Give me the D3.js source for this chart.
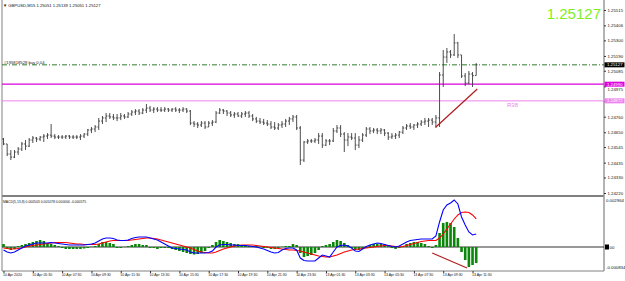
<!DOCTYPE html>
<html>
<head>
<meta charset="utf-8">
<script src="https://cdn.jsdelivr.net/npm/d3@7"></script>
<style>
body { margin: 0; background: #fff; }
svg { display: block; }
text { font-family: "Liberation Sans", Arial, sans-serif; }
</style>
</head>
<body>
<svg id="chart" width="625" height="281"></svg>
<script>
// GBPUSD M15 bars (open / high / low / close)
var opens = [
1.24602,1.24567,1.24496,1.24474,1.24510,1.24531,1.24567,1.24552,1.24595,1.24609,
1.24602,1.24616,1.24623,1.24630,1.24623,1.24616,1.24616,1.24616,1.24623,1.24616,
1.24616,1.24616,1.24623,1.24637,1.24666,1.24673,1.24687,1.24729,1.24751,1.24765,
1.24758,1.24751,1.24751,1.24765,1.24758,1.24779,1.24793,1.24800,1.24786,1.24807,
1.24821,1.24807,1.24814,1.24807,1.24807,1.24814,1.24807,1.24814,1.24807,1.24807,
1.24814,1.24800,1.24715,1.24708,1.24701,1.24715,1.24687,1.24715,1.24722,1.24786,
1.24807,1.24800,1.24786,1.24772,1.24779,1.24765,1.24779,1.24786,1.24765,1.24744,
1.24729,1.24722,1.24715,1.24708,1.24687,1.24680,1.24701,1.24708,1.24729,1.24744,
1.24758,1.24680,1.24453,1.24581,1.24588,1.24588,1.24595,1.24623,1.24559,1.24588,
1.24588,1.24659,1.24680,1.24637,1.24595,1.24616,1.24609,1.24559,1.24595,1.24630,
1.24673,1.24659,1.24666,1.24659,1.24666,1.24644,1.24616,1.24623,1.24630,1.24651,
1.24680,1.24694,1.24687,1.24701,1.24708,1.24722,1.24729,1.24736,1.24722,1.24751,
1.25055,1.25182,1.25218,1.25197,1.25282,1.25197,1.25048,1.24998,1.25062,1.25051];
var highs = [
1.24609,1.24567,1.24524,1.24524,1.24545,1.24581,1.24595,1.24609,1.24623,1.24616,
1.24623,1.24637,1.24644,1.24708,1.24637,1.24630,1.24630,1.24630,1.24630,1.24630,
1.24630,1.24637,1.24644,1.24673,1.24687,1.24701,1.24751,1.24765,1.24786,1.24786,
1.24779,1.24779,1.24786,1.24779,1.24793,1.24807,1.24814,1.24814,1.24821,1.24850,
1.24836,1.24828,1.24828,1.24828,1.24828,1.24821,1.24821,1.24828,1.24821,1.24828,
1.24821,1.24807,1.24729,1.24722,1.24729,1.24729,1.24729,1.24736,1.24800,1.24821,
1.24814,1.24807,1.24800,1.24793,1.24793,1.24793,1.24800,1.24800,1.24779,1.24758,
1.24751,1.24744,1.24736,1.24729,1.24722,1.24715,1.24729,1.24744,1.24758,1.24772,
1.24772,1.24694,1.24588,1.24602,1.24602,1.24609,1.24644,1.24644,1.24602,1.24602,
1.24680,1.24701,1.24701,1.24651,1.24644,1.24644,1.24644,1.24623,1.24644,1.24687,
1.24687,1.24680,1.24680,1.24680,1.24673,1.24651,1.24644,1.24644,1.24659,1.24694,
1.24708,1.24715,1.24708,1.24722,1.24736,1.24751,1.24751,1.24751,1.24772,1.25076,
1.25232,1.25246,1.25232,1.25345,1.25289,1.25197,1.25069,1.25083,1.25076,1.25139];
var lows = [
1.24559,1.24481,1.24453,1.24467,1.24489,1.24517,1.24524,1.24545,1.24574,1.24581,
1.24588,1.24581,1.24602,1.24609,1.24602,1.24602,1.24602,1.24602,1.24602,1.24602,
1.24602,1.24595,1.24609,1.24623,1.24644,1.24651,1.24666,1.24708,1.24722,1.24744,
1.24736,1.24729,1.24736,1.24744,1.24751,1.24765,1.24772,1.24772,1.24779,1.24786,
1.24793,1.24786,1.24793,1.24793,1.24793,1.24793,1.24793,1.24793,1.24786,1.24793,
1.24786,1.24701,1.24687,1.24680,1.24687,1.24673,1.24687,1.24694,1.24715,1.24779,
1.24779,1.24765,1.24758,1.24751,1.24758,1.24751,1.24758,1.24751,1.24729,1.24715,
1.24708,1.24701,1.24694,1.24673,1.24666,1.24666,1.24680,1.24687,1.24701,1.24722,
1.24666,1.24418,1.24439,1.24567,1.24574,1.24574,1.24567,1.24538,1.24552,1.24559,
1.24581,1.24644,1.24616,1.24510,1.24552,1.24595,1.24524,1.24538,1.24581,1.24616,
1.24637,1.24644,1.24637,1.24637,1.24623,1.24595,1.24602,1.24602,1.24609,1.24637,
1.24666,1.24673,1.24666,1.24680,1.24694,1.24701,1.24687,1.24701,1.24680,1.24687,
1.24970,1.25140,1.25175,1.25190,1.25175,1.25034,1.24977,1.24991,1.24970,1.25051];
var closes = [
1.24567,1.24496,1.24474,1.24510,1.24531,1.24567,1.24552,1.24595,1.24609,1.24602,
1.24616,1.24623,1.24630,1.24623,1.24616,1.24616,1.24616,1.24623,1.24616,1.24616,
1.24616,1.24623,1.24637,1.24666,1.24673,1.24687,1.24729,1.24751,1.24765,1.24758,
1.24751,1.24751,1.24765,1.24758,1.24779,1.24793,1.24800,1.24786,1.24807,1.24821,
1.24807,1.24814,1.24807,1.24807,1.24814,1.24807,1.24814,1.24807,1.24807,1.24814,
1.24800,1.24715,1.24708,1.24701,1.24715,1.24687,1.24715,1.24722,1.24786,1.24807,
1.24800,1.24786,1.24772,1.24779,1.24765,1.24779,1.24786,1.24765,1.24744,1.24729,
1.24722,1.24715,1.24708,1.24687,1.24680,1.24701,1.24708,1.24729,1.24744,1.24758,
1.24680,1.24453,1.24581,1.24588,1.24588,1.24595,1.24623,1.24559,1.24588,1.24588,
1.24659,1.24680,1.24637,1.24595,1.24616,1.24609,1.24559,1.24595,1.24630,1.24673,
1.24659,1.24666,1.24659,1.24666,1.24644,1.24616,1.24623,1.24630,1.24651,1.24680,
1.24694,1.24687,1.24701,1.24708,1.24722,1.24729,1.24736,1.24722,1.24751,1.25055,
1.25182,1.25218,1.25197,1.25282,1.25197,1.25048,1.24998,1.25062,1.25051,1.25127];

// MACD(5,13,8): main line (blue), signal line (red), histogram (green)
var macdMain = [
-0.000189,-0.000316,-0.000379,-0.000316,-0.000189,-0.000063,0.000063,0.000126,0.000189,0.000252,
0.000252,0.000252,0.000252,0.000284,0.000252,0.000221,0.000189,0.000158,0.000126,0.000126,
0.000126,0.000126,0.000126,0.000158,0.000189,0.000252,0.000379,0.000505,0.000568,0.000568,
0.000536,0.000442,0.000410,0.000410,0.000442,0.000536,0.000599,0.000631,0.000631,0.000631,
0.000568,0.000505,0.000442,0.000316,0.000189,0.000063,-0.000063,-0.000095,-0.000126,-0.000158,
-0.000189,-0.000316,-0.000379,-0.000379,-0.000379,-0.000379,-0.000347,-0.000252,0.000000,0.000126,
0.000158,0.000158,0.000126,0.000126,0.000095,0.000095,0.000095,0.000063,0.000032,0.000000,
-0.000063,-0.000126,-0.000221,-0.000316,-0.000379,-0.000347,-0.000189,-0.000095,-0.000063,-0.000063,
-0.000189,-0.000694,-0.000852,-0.000883,-0.000883,-0.000883,-0.000694,-0.000505,-0.000568,-0.000631,
-0.000316,0.000000,0.000095,0.000126,0.000063,-0.000063,-0.000252,-0.000284,-0.000126,0.000032,
0.000126,0.000189,0.000252,0.000221,0.000158,0.000095,0.000032,0.000000,0.000063,0.000189,
0.000316,0.000410,0.000442,0.000473,0.000505,0.000505,0.000505,0.000505,0.000694,0.001578,
0.002335,0.002650,0.002776,0.002964,0.002713,0.001893,0.001388,0.000947,0.000757,0.000820];
var macdSignal = [
-0.000063,-0.000095,-0.000126,-0.000126,-0.000095,-0.000063,0.000000,0.000063,0.000095,0.000126,
0.000158,0.000189,0.000221,0.000252,0.000284,0.000284,0.000284,0.000284,0.000252,0.000221,
0.000189,0.000189,0.000158,0.000158,0.000158,0.000158,0.000189,0.000252,0.000316,0.000379,
0.000410,0.000410,0.000410,0.000410,0.000410,0.000442,0.000473,0.000505,0.000536,0.000568,
0.000568,0.000536,0.000505,0.000442,0.000379,0.000316,0.000252,0.000189,0.000126,0.000063,
0.000000,-0.000063,-0.000158,-0.000252,-0.000316,-0.000347,-0.000379,-0.000379,-0.000316,-0.000221,
-0.000126,-0.000063,0.000000,0.000063,0.000095,0.000126,0.000126,0.000126,0.000126,0.000095,
0.000063,0.000032,0.000000,-0.000032,-0.000063,-0.000095,-0.000126,-0.000158,-0.000189,-0.000189,
-0.000221,-0.000252,-0.000316,-0.000379,-0.000442,-0.000505,-0.000568,-0.000599,-0.000631,-0.000631,
-0.000568,-0.000505,-0.000410,-0.000316,-0.000252,-0.000189,-0.000158,-0.000126,-0.000095,-0.000063,
-0.000032,0.000000,0.000032,0.000063,0.000095,0.000095,0.000063,0.000032,0.000000,0.000032,
0.000095,0.000158,0.000221,0.000284,0.000347,0.000379,0.000410,0.000410,0.000410,0.000568,
0.000820,0.001136,0.001451,0.001767,0.002019,0.002177,0.002209,0.002177,0.002019,0.001767];
var macdHist = [
0.000189,-0.000126,-0.000189,-0.000126,0.000063,0.000126,0.000189,0.000252,0.000316,0.000379,
0.000442,0.000379,0.000252,0.000189,0.000126,0.000063,-0.000063,-0.000126,-0.000126,-0.000126,
-0.000126,-0.000126,-0.000095,-0.000063,0.000016,0.000063,0.000189,0.000316,0.000316,0.000252,
0.000189,-0.000063,-0.000063,0.000010,0.000063,0.000126,0.000189,0.000189,0.000126,0.000126,
-0.000063,-0.000063,-0.000126,-0.000063,-0.000063,-0.000063,-0.000126,-0.000189,-0.000252,-0.000316,
-0.000379,-0.000442,-0.000473,-0.000442,-0.000379,-0.000252,-0.000063,0.000126,0.000316,0.000442,
0.000379,0.000316,0.000252,0.000189,0.000189,0.000126,0.000126,0.000063,0.000063,0.000063,
0.000010,-0.000063,-0.000063,-0.000126,-0.000126,-0.000063,0.000010,0.000063,0.000063,0.000189,
0.000126,-0.000379,-0.000631,-0.000568,-0.000505,-0.000379,-0.000189,0.000063,0.000126,0.000189,
0.000316,0.000442,0.000379,0.000252,0.000126,-0.000063,-0.000126,-0.000189,-0.000126,-0.000063,
0.000126,0.000189,0.000189,0.000189,0.000189,0.000126,-0.000063,-0.000126,-0.000063,0.000063,
0.000189,0.000252,0.000316,0.000316,0.000252,0.000189,0.000063,-0.000063,0.000126,0.000883,
0.001514,0.001578,0.001514,0.001262,0.000568,-0.000316,-0.000820,-0.001262,-0.001136,-0.001010];

var timeLabels = ["10 Apr 2020","10 Apr 05:30","10 Apr 07:30","10 Apr 09:30","10 Apr 11:30",
    "10 Apr 13:30","10 Apr 15:30","10 Apr 17:30","10 Apr 19:30","10 Apr 21:30","10 Apr 23:30",
    "13 Apr 01:30","13 Apr 03:30","13 Apr 05:30","13 Apr 07:30","13 Apr 09:30","13 Apr 11:30"];
var priceTicks = [1.25515,1.25406,1.25300,1.25190,1.25085,1.24975,1.24870,1.24760,1.24650,1.24545,1.24435,1.24330,1.24220];

// levels drawn across the chart
var orderPrice = 1.25127, bidPrice = 1.25127;
var magentaLevel = 1.24990, fiboLevel = 1.24872;
// trend lines: [bar, value] pairs
var priceTrend = [[118, 1.24687], [129.3, 1.24956]];
var macdTrend = [[117, -0.000379], [126.5, -0.001325]];

var left = 2, right = 604, subBottom = 271;

var svg = d3.select("#chart");

// scales
var xScale = d3.scaleLinear().domain([0, 129]).range([3.5, 476.2]);
var yPrice = d3.scaleLinear().domain([1.24220, 1.25515]).range([193, 10]);
var yMacd = d3.scaleLinear().domain([-0.00145, 0.002964]).range([270, 200]);

// frame
svg.append("line").attr("x1", left).attr("x2", left).attr("y1", 0).attr("y2", subBottom)
    .attr("stroke", "#808080").attr("stroke-width", 1);
svg.append("line").attr("x1", left).attr("x2", right).attr("y1", subBottom).attr("y2", subBottom)
    .attr("stroke", "#808080").attr("stroke-width", 1);
svg.append("line").attr("x1", left).attr("x2", right).attr("y1", 196).attr("y2", 196)
    .attr("stroke", "#808080").attr("stroke-width", 2);
svg.append("line").attr("x1", right).attr("x2", right).attr("y1", 0).attr("y2", subBottom)
    .attr("stroke", "#9a9a9a").attr("stroke-width", 1.5);

// horizontal levels
svg.append("line").attr("x1", left).attr("x2", right)
    .attr("y1", yPrice(orderPrice)).attr("y2", yPrice(orderPrice))
    .attr("stroke", "#2f7d2f").attr("stroke-width", 1)
    .attr("stroke-dasharray", "5,2,1,2");
svg.append("line").attr("x1", left).attr("x2", right)
    .attr("y1", yPrice(magentaLevel)).attr("y2", yPrice(magentaLevel))
    .attr("stroke", "#d800d8").attr("stroke-width", 1.3);
svg.append("line").attr("x1", left).attr("x2", right)
    .attr("y1", yPrice(fiboLevel)).attr("y2", yPrice(fiboLevel))
    .attr("stroke", "#ee82ee").attr("stroke-width", 1);

svg.append("text").attr("x", 4).attr("y", yPrice(orderPrice) - 1.2)
    .attr("font-size", 4.2).attr("fill", "#222").text("#195818528 buy 0.04");
svg.append("text").attr("x", 507).attr("y", yPrice(fiboLevel) + 6)
    .attr("font-size", 6).attr("fill", "#ee82ee").text("R38");

// OHLC bars
var bars = svg.append("g").attr("stroke", "#3a3a3a").attr("stroke-width", 0.9);
opens.forEach(function(o, i) {
    var x = xScale(i);
    bars.append("line").attr("x1", x).attr("x2", x)
        .attr("y1", yPrice(highs[i])).attr("y2", yPrice(lows[i]));
    bars.append("line").attr("x1", x - 1.3).attr("x2", x)
        .attr("y1", yPrice(o)).attr("y2", yPrice(o));
    bars.append("line").attr("x1", x).attr("x2", x + 1.3)
        .attr("y1", yPrice(closes[i])).attr("y2", yPrice(closes[i]));
});

// price trend line
svg.append("line")
    .attr("x1", xScale(priceTrend[0][0])).attr("y1", yPrice(priceTrend[0][1]))
    .attr("x2", xScale(priceTrend[1][0])).attr("y2", yPrice(priceTrend[1][1]))
    .attr("stroke", "#b01c1c").attr("stroke-width", 1.2);

// price axis
var yAxis = d3.axisRight(yPrice).tickValues(priceTicks)
    .tickFormat(d3.format(".5f")).tickSize(2).tickPadding(1.5);
var ga = svg.append("g").attr("transform", "translate(" + right + ",0)").call(yAxis);
ga.select(".domain").remove();
ga.selectAll("text").attr("font-size", 4.3).attr("font-family", "Liberation Sans, Arial, sans-serif").attr("fill", "#111");
ga.selectAll("line").attr("stroke", "#333");

// a tick label sitting just under the magenta price box is pushed below it, as the terminal does
var magY = yPrice(magentaLevel);
ga.selectAll(".tick text").each(function(d) {
    var dy = yPrice(d) - magY;
    if (dy > 0 && dy < 5) d3.select(this).attr("y", 5 - dy);
});

// price boxes on the axis
function axisBox(y, label, fill) {
    svg.append("rect").attr("x", right + 0.5).attr("y", y - 2.5)
        .attr("width", 20).attr("height", 5).attr("fill", fill);
    svg.append("text").attr("x", right + 3).attr("y", y + 1.5)
        .attr("font-size", 4.3).attr("fill", "#fff").text(label);
}
axisBox(yPrice(bidPrice), d3.format(".5f")(bidPrice), "#000");
axisBox(yPrice(magentaLevel), d3.format(".5f")(magentaLevel), "#e000e0");
axisBox(yPrice(fiboLevel), d3.format(".5f")(fiboLevel), "#ee82ee");

// header texts
svg.append("text").attr("x", 3).attr("y", 6.5).attr("font-size", 4.2).attr("fill", "#111")
    .text("\u25BC GBPUSD,M15  1.25051 1.25139 1.25051 1.25127");
svg.append("text").attr("x", 601).attr("y", 19).attr("text-anchor", "end")
    .attr("font-size", 15).attr("fill", "#7ef01c").text(d3.format(".5f")(bidPrice));

// MACD panel
svg.append("line").attr("x1", left).attr("x2", right)
    .attr("y1", yMacd(0)).attr("y2", yMacd(0))
    .attr("stroke", "#333").attr("stroke-width", 1);

svg.append("g").selectAll("rect")
    .data(macdHist)
    .enter()
    .append("rect")
    .attr("x", function(d, i) { return xScale(i) - 1.3; })
    .attr("width", 2.6)
    .attr("y", function(d) { return Math.min(yMacd(d), yMacd(0)); })
    .attr("height", function(d) { return Math.abs(yMacd(d) - yMacd(0)); })
    .attr("fill", "#0a870a");

var macdLine = d3.line()
    .x(function(d, i) { return xScale(i); })
    .y(function(d) { return yMacd(d); });

svg.append("path").datum(macdSignal).attr("d", macdLine)
    .attr("fill", "none").attr("stroke", "#ff0000").attr("stroke-width", 1.1);
svg.append("path").datum(macdMain).attr("d", macdLine)
    .attr("fill", "none").attr("stroke", "#0000ff").attr("stroke-width", 1.1);

svg.append("line")
    .attr("x1", xScale(macdTrend[0][0])).attr("y1", yMacd(macdTrend[0][1]))
    .attr("x2", xScale(macdTrend[1][0])).attr("y2", yMacd(macdTrend[1][1]))
    .attr("stroke", "#b01c1c").attr("stroke-width", 1.1);

svg.append("text").attr("x", 3).attr("y", 202.5).attr("font-size", 3.4).attr("fill", "#111")
    .text("MACD(5,13,8) 0.000503 0.001078 0.000000 -0.000575");

// MACD scale labels
svg.append("text").attr("x", right + 2).attr("y", yMacd(0.002964) + 1.5)
    .attr("font-size", 4.3).attr("fill", "#111").text("0.002964");
svg.append("rect").attr("x", right + 1).attr("y", yMacd(0) - 2.5)
    .attr("width", 4).attr("height", 5).attr("fill", "#000");
svg.append("text").attr("x", right + 5.5).attr("y", yMacd(0) + 1.5)
    .attr("font-size", 4.3).attr("fill", "#111").text("00");
svg.append("text").attr("x", right + 2).attr("y", 269)
    .attr("font-size", 4.3).attr("fill", "#111").text("-0.000834");

// time axis
var xAxis = d3.axisBottom(xScale)
    .tickValues(d3.range(0, 129, 8))
    .tickFormat(function(d, i) { return timeLabels[i]; })
    .tickSize(2).tickPadding(0.5);
var gx = svg.append("g").attr("transform", "translate(0," + subBottom + ")").call(xAxis);
gx.select(".domain").remove();
gx.selectAll("text").attr("font-size", 3.5).attr("text-anchor", "start")
    .attr("font-family", "Liberation Sans, Arial, sans-serif").attr("fill", "#111")
    .attr("dx", -1);
gx.selectAll("line").attr("stroke", "#333");
</script>
</body>
</html>
